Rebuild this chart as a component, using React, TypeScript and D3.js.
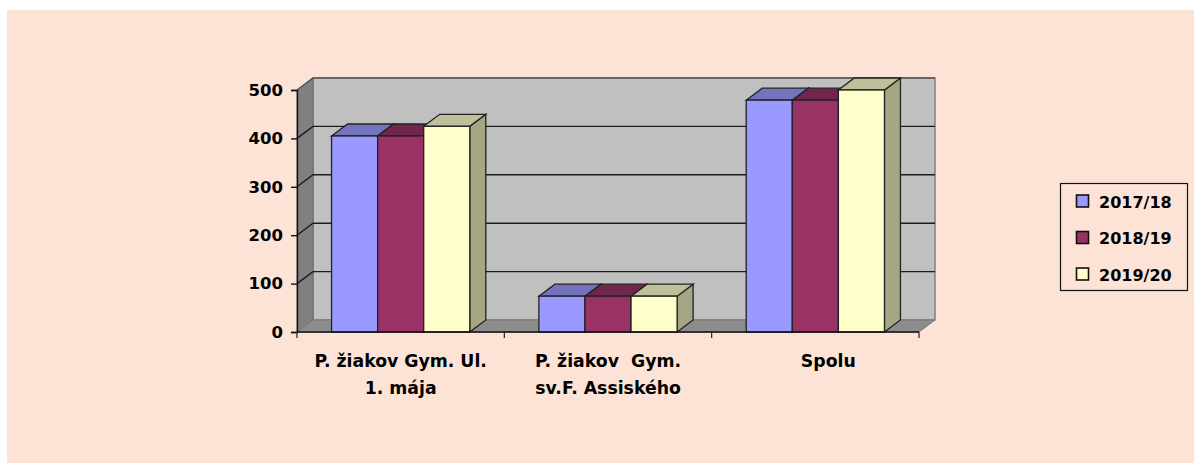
import { useEffect, useRef } from "react";
import * as d3 from "d3";

const categories = ["P. žiakov Gym. Ul.|1. mája", "P. žiakov  Gym.|sv.F. Assiského", "Spolu"];
const seriesNames = ["2017/18", "2018/19", "2019/20"];
const values2017 = [405, 74, 479];
const values2018 = [405, 74, 479];
const values2019 = [425, 74, 500];
const seriesValues = [values2017, values2018, values2019];
const yTicks = [0, 100, 200, 300, 400, 500];
const colors = ["#9999FF", "#993366", "#FFFFCC"];

const FONT = "'DejaVu Sans', sans-serif";
const left = 297;
const right = 919;
const top = 90;
const bottom = 332;
const depthX = 16;
const depthY = -12;

const pts = (arr: number[][]) => arr.map((p) => p.join(",")).join(" ");

const App = () => {
  const svgRef = useRef<SVGSVGElement>(null);

  useEffect(() => {
    if (!svgRef.current) return;
    const svg = d3.select(svgRef.current);
    svg.selectAll("*").remove();

    const xScale = d3.scaleBand().domain(categories).range([left, right]);
    const xInner = d3
      .scaleBand()
      .domain(seriesNames)
      .range([0, xScale.bandwidth()])
      .paddingInner(0)
      .paddingOuter(0.75);
    const yScale = d3.scaleLinear().domain([0, 500]).range([bottom, top]);

    svg
      .append("rect")
      .attr("x", 7)
      .attr("y", 10)
      .attr("width", 1187)
      .attr("height", 453)
      .attr("fill", "#FCE3D6");

    // walls
    svg
      .append("polygon")
      .attr(
        "points",
        pts([
          [left + depthX, top + depthY],
          [right + depthX, top + depthY],
          [right + depthX, bottom + depthY],
          [left + depthX, bottom + depthY],
        ])
      )
      .attr("fill", "#C0C0C0")
      .attr("stroke", "#808080")
      .attr("stroke-width", 1.5);
    svg
      .append("polygon")
      .attr(
        "points",
        pts([
          [left, top],
          [left + depthX, top + depthY],
          [left + depthX, bottom + depthY],
          [left, bottom],
        ])
      )
      .attr("fill", "#808080")
      .attr("stroke", "#6a6a6a");
    svg
      .append("polygon")
      .attr(
        "points",
        pts([
          [left, bottom],
          [left + depthX, bottom + depthY],
          [right + depthX, bottom + depthY],
          [right, bottom],
        ])
      )
      .attr("fill", "#8C8C8C")
      .attr("stroke", "#777");

    // gridlines
    svg
      .append("g")
      .selectAll("polyline")
      .data(yTicks.slice(1))
      .join("polyline")
      .attr("points", (d) =>
        pts([
          [left, yScale(d)],
          [left + depthX, yScale(d) + depthY],
          [right + depthX, yScale(d) + depthY],
        ])
      )
      .attr("fill", "none")
      .attr("stroke", (d) => (d === 500 ? "#555" : "#1c1c1c"))
      .attr("stroke-width", 1.4);

    // bars
    seriesValues.forEach((vals, s) => {
      const g = svg.append("g");
      vals.forEach((v, c) => {
        const x0 = (xScale(categories[c]) as number) + (xInner(seriesNames[s]) as number);
        const x1 = x0 + xInner.bandwidth();
        const y0 = yScale(0);
        const y1 = yScale(v);
        const base = d3.color(colors[s]) as d3.RGBColor;
        const shade = (k: number) => d3.rgb(base.r * k, base.g * k, base.b * k).formatHex();
        g.append("polygon")
          .attr(
            "points",
            pts([
              [x1, y0],
              [x1 + depthX, y0 + depthY],
              [x1 + depthX, y1 + depthY],
              [x1, y1],
            ])
          )
          .attr("fill", shade(0.65))
          .attr("stroke", "#222")
          .attr("stroke-width", 1.3);
        g.append("polygon")
          .attr(
            "points",
            pts([
              [x0, y1],
              [x0 + depthX, y1 + depthY],
              [x1 + depthX, y1 + depthY],
              [x1, y1],
            ])
          )
          .attr("fill", shade(0.75))
          .attr("stroke", "#222")
          .attr("stroke-width", 1.3);
        g.append("rect")
          .attr("x", x0)
          .attr("y", y1)
          .attr("width", x1 - x0)
          .attr("height", y0 - y1)
          .attr("fill", colors[s])
          .attr("stroke", "#222")
          .attr("stroke-width", 1.3);
      });
    });

    // axes
    const yAxis = d3.axisLeft(yScale).tickValues(yTicks).tickSize(6).tickPadding(8);
    const yGroup = svg.append("g").attr("transform", `translate(${left},0)`).call(yAxis);
    yGroup.select(".domain").attr("stroke", "#111").attr("stroke-width", 1.4);
    yGroup.selectAll("line").attr("stroke", "#111").attr("stroke-width", 1.4);
    yGroup
      .selectAll("text")
      .attr("fill", "#000")
      .style("font-family", FONT)
      .style("font-size", "16.5px")
      .style("font-weight", 700);

    svg
      .append("line")
      .attr("x1", left)
      .attr("x2", right)
      .attr("y1", bottom)
      .attr("y2", bottom)
      .attr("stroke", "#111")
      .attr("stroke-width", 1.6);
    const xTickPos = [...categories.map((c) => xScale(c) as number), right];
    svg
      .append("g")
      .selectAll("line")
      .data(xTickPos)
      .join("line")
      .attr("x1", (d) => d)
      .attr("x2", (d) => d)
      .attr("y1", bottom)
      .attr("y2", bottom + 6)
      .attr("stroke", "#222")
      .attr("stroke-width", 1.2);

    const labels = svg
      .append("g")
      .selectAll("text")
      .data(categories)
      .join("text")
      .attr("text-anchor", "middle")
      .attr("fill", "#000")
      .style("font-family", FONT)
      .style("font-size", "17.3px")
      .style("font-weight", 700)
      .style("white-space", "pre");
    labels.each(function (d, i) {
      const cx = (xScale(d) as number) + xScale.bandwidth() / 2 + (i === 2 ? 13 : 0);
      d.split("|").forEach((line, j) => {
        d3.select(this)
          .append("tspan")
          .attr("x", cx)
          .attr("y", 367 + j * 27)
          .text(line);
      });
    });

    // legend
    svg
      .append("rect")
      .attr("x", 1060.5)
      .attr("y", 183.5)
      .attr("width", 127)
      .attr("height", 107)
      .attr("fill", "none")
      .attr("stroke", "#111")
      .attr("stroke-width", 1.2);
    const yLegend = d3.scalePoint().domain(seriesNames).range([201, 274]);
    const legend = svg
      .append("g")
      .selectAll("g")
      .data(seriesNames)
      .join("g")
      .attr("transform", (d) => `translate(0,${yLegend(d)})`);
    legend
      .append("rect")
      .attr("x", 1076.5)
      .attr("y", -6)
      .attr("width", 12)
      .attr("height", 12)
      .attr("fill", (_, i) => colors[i])
      .attr("stroke", "#111")
      .attr("stroke-width", 1.6);
    legend
      .append("text")
      .attr("x", 1099)
      .attr("y", 6.5)
      .attr("fill", "#000")
      .style("font-family", FONT)
      .style("font-size", "16px")
      .style("font-weight", 700)
      .text((d) => d);
  }, []);

  return (
    <svg
      ref={svgRef}
      width={1194}
      height={463}
      style={{ position: "fixed", left: 0, top: 0, display: "block" }}
    ></svg>
  );
};

export default App;
